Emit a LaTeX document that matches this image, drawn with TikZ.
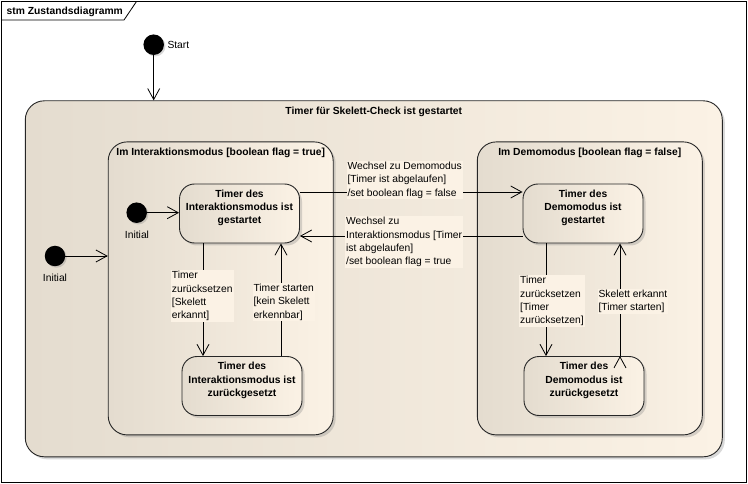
\documentclass[tikz,border=0pt]{standalone}
\usepackage{fontspec}
\setmainfont{Liberation Sans}
\usetikzlibrary{arrows.meta,shadows}
\definecolor{stmtan}{RGB}{228,220,207}
\definecolor{stmcream}{RGB}{251,242,229}

\begin{document}
\begin{tikzpicture}[x=1pt,y=-1pt,
  font=\fontsize{10.3}{13.3}\selectfont,
  >={Straight Barb[length=11pt,width=12pt]},
  stmfill/.style={left color=stmtan,right color=stmcream,draw=black!85,line width=0.9pt,
    drop shadow={shadow xshift=2.5pt,shadow yshift=-2.5pt,opacity=.3}},
  composite/.style={stmfill,rectangle,rounded corners=19pt,inner sep=0pt},
  state/.style={stmfill,rectangle,rounded corners=15pt,align=center,inner sep=0pt,
    font=\fontsize{10.3}{13.3}\selectfont\bfseries,minimum width=120pt,minimum height=59pt},
  pseudo/.style={circle,fill=black,minimum size=20.5pt,inner sep=0pt,
    drop shadow={shadow xshift=1.5pt,shadow yshift=-1.5pt,opacity=.3}},
  title/.style={anchor=base,inner sep=0pt,font=\fontsize{10.3}{13.3}\selectfont\bfseries},
  txt/.style={inner sep=0pt},
  lbl/.style={fill=stmcream,align=left,anchor=north west,inner sep=1pt},
  trans/.style={draw,->,line width=0.8pt}]
  \useasboundingbox (0,0) rectangle (748,484);

  % frame
  \draw[line width=0.8pt] (1.5,1.5) rectangle (746.5,482.5);
  \draw[line width=0.8pt] (1.5,20) -- (124,20) -- (136.5,1.5);
  \node[title,anchor=base west] (frame) at (6.5,14.4) {stm Zustandsdiagramm};

  % composite states
  \node[composite,minimum width=697pt,minimum height=356pt] (outer) at (373.8,278.8) {};
  \node[title] (outertxt) at ([yshift=-14pt]outer.north) {Timer für Skelett-Check ist gestartet};
  \node[composite,minimum width=225pt,minimum height=293pt] (ileft) at (220.7,288.4) {};
  \node[title] (ilefttxt) at ([yshift=-14pt]ileft.north) {Im Interaktionsmodus [boolean flag = true]};
  \node[composite,minimum width=225pt,minimum height=293pt] (iright) at (589.8,288.4) {};
  \node[title] (irighttxt) at ([yshift=-14pt]iright.north) {Im Demomodus [boolean flag = false]};

  % states
  \node[state] (ia) at (239.5,213.5) {Timer des\\Interaktionsmodus ist\\gestartet\\\mbox{}};
  \node[state] (ib) at (242,386) {Timer des\\Interaktionsmodus ist\\zurückgesetzt\\\mbox{}};
  \node[state] (dc) at (583,213.5) {Timer des\\Demomodus ist\\gestartet\\\mbox{}};
  \node[state] (db) at (584,386) {Timer des\\Demomodus ist\\zurückgesetzt\\\mbox{}};

  % pseudo states
  \node[pseudo] (start) at (153.7,44.7) {};
  \node[txt,anchor=west] (starttxt) at (167.3,44.7) {Start};
  \node[pseudo] (oinit) at (55,256) {};
  \node[txt] (oinittxt) at (55,277.7) {Initial};
  \node[pseudo] (iinit) at (136.7,212.7) {};
  \node[txt] (iinittxt) at (137,235) {Initial};

  \path[trans]
    (start) edge (start |- outer.north)
    (oinit) edge (oinit -| ileft.west)
    (iinit) edge (iinit -| ia.west)
    (ia.south -| 203,0) edge (ib.north -| 203,0)
    (ib.north -| 281,0) edge (ia.south -| 281,0)
    (ia.east |- 0,192) edge (dc.west |- 0,192)
    (dc.west |- 0,236) edge (ia.east |- 0,236)
    (dc.south -| 546,0) edge (db.north -| 546,0)
    (db.north -| 620,0) edge (dc.south -| 620,0);

  % transition labels
  \node[lbl] (lab) at (170.7,270.3) {Timer\\zurücksetzen\\{}[Skelett\\erkannt]};
  \node[lbl] (lba) at (252.3,283) {Timer starten\\{}[kein Skelett\\erkennbar]};
  \node[lbl] (lac) at (346.3,161) {Wechsel zu Demomodus\\{}[Timer ist abgelaufen]\\/set boolean flag = false};
  \node[lbl] (lca) at (345,216.3) {Wechsel zu\\Interaktionsmodus [Timer\\ist abgelaufen]\\/set boolean flag = true};
  \node[lbl] (lcd) at (519,275.3) {Timer\\zurücksetzen\\{}[Timer\\zurücksetzen]};
  \node[lbl] (ldc) at (597.3,288.6) {Skelett erkannt\\{}[Timer starten]};
\end{tikzpicture}
\end{document}
